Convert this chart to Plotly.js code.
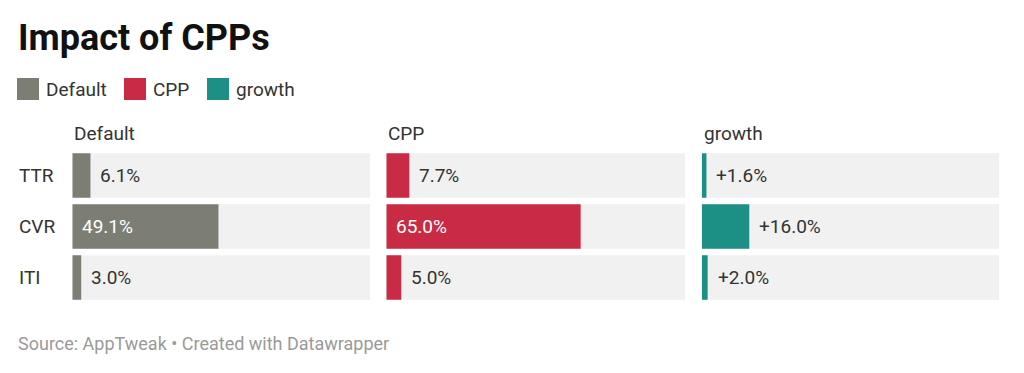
<!DOCTYPE html>
<html><head><meta charset="utf-8">
<script src="https://cdn.plot.ly/plotly-3.0.1.min.js"></script>
<style>html,body{margin:0;padding:0;background:#fff}#chart{width:1024px;height:373px}</style>
</head><body><div id="chart"></div>
<script>
const metrics = ['TTR', 'CVR', 'ITI'];
const seriesNames = ['Default', 'CPP', 'growth'];
const defaultValues = [6.1, 49.1, 3.0];
const cppValues = [7.7, 65.0, 5.0];
const growthValues = [1.6, 16.0, 2.0];
const seriesPrefix = ['', '', '+'];
const seriesColors = ['#7c7e74', '#c92b45', '#1d9086'];
const scaleMax = 100;
const chartTitle = 'Impact of CPPs';
const sourceText = 'Source: AppTweak \u2022 Created with Datawrapper';

const W = 1024, H = 373, MT = 150, MB = 70;
const PH = H - MT - MB;
function py(p) { return (H - MB - p) / PH; }
const domains = [[72.3 / W, 370 / W], [386.3 / W, 685.3 / W], [701.7 / W, 999.3 / W]];
const series = [defaultValues, cppValues, growthValues];
const FONT = 'Roboto, "Open Sans", sans-serif';
const BARW = 0.873;

const traces = [], annotations = [], shapes = [];
const layout = {
  width: W, height: H,
  margin: {l: 0, r: 0, t: MT, b: MB, pad: 0},
  paper_bgcolor: '#ffffff', plot_bgcolor: 'rgba(0,0,0,0)',
  barmode: 'overlay', showlegend: false,
  font: {family: FONT, size: 19, color: '#333333'},
  hovermode: false
};

series.forEach((vals, i) => {
  const sfx = i === 0 ? '' : String(i + 1);
  const xa = 'x' + sfx, ya = 'y' + sfx;
  layout['xaxis' + sfx] = {domain: domains[i], range: [0, scaleMax], visible: false, fixedrange: true, anchor: ya};
  layout['yaxis' + sfx] = {domain: [0, 1], type: 'category', categoryarray: metrics, categoryorder: 'array',
    range: [metrics.length - 0.5, -0.5], visible: false, fixedrange: true, anchor: xa};
  traces.push({type: 'bar', orientation: 'h', y: metrics, x: metrics.map(() => scaleMax),
    xaxis: xa, yaxis: ya, width: BARW, marker: {color: '#f1f1f1', line: {width: 0}}, hoverinfo: 'skip'});
  traces.push({type: 'bar', orientation: 'h', y: metrics, x: vals, name: seriesNames[i],
    xaxis: xa, yaxis: ya, width: BARW, marker: {color: seriesColors[i], line: {width: 0}}});
  vals.forEach((v, j) => {
    const inside = v > 20;
    annotations.push({xref: xa, yref: ya, x: inside ? 0 : v, y: metrics[j], xanchor: 'left', yanchor: 'middle',
      xshift: 8, showarrow: false, text: seriesPrefix[i] + v.toFixed(1) + '%',
      font: {family: FONT, size: 19, color: inside ? '#ffffff' : '#333333'}});
  });
  annotations.push({xref: 'paper', yref: 'paper', x: domains[i][0], y: py(133), xanchor: 'left', yanchor: 'middle',
    showarrow: false, text: seriesNames[i], font: {family: FONT, size: 19, color: '#333333'}});
});

metrics.forEach(m => {
  annotations.push({xref: 'paper', yref: 'y', x: 17 / W, y: m, xanchor: 'left', yanchor: 'middle',
    showarrow: false, text: m, font: {family: FONT, size: 19, color: '#333333'}});
});

// legend
const legendSquares = [17, 124, 207];
seriesNames.forEach((n, i) => {
  const x0 = legendSquares[i];
  shapes.push({type: 'rect', xref: 'paper', yref: 'paper', x0: x0 / W, x1: (x0 + 22) / W, y0: py(100), y1: py(78),
    fillcolor: seriesColors[i], line: {width: 0}});
  annotations.push({xref: 'paper', yref: 'paper', x: (x0 + 27) / W, y: py(89), xanchor: 'left', yanchor: 'middle',
    showarrow: false, text: n, font: {family: FONT, size: 19, color: '#333333'}});
});

annotations.push({xref: 'paper', yref: 'paper', x: 16 / W, y: py(38), xanchor: 'left', yanchor: 'middle',
  showarrow: false, text: '<b>' + chartTitle + '</b>', font: {family: FONT, size: 36, color: '#111111'}});
annotations.push({xref: 'paper', yref: 'paper', x: 16 / W, y: py(343), xanchor: 'left', yanchor: 'middle',
  showarrow: false, text: sourceText, font: {family: FONT, size: 18, color: '#9a9a9a'}});

layout.annotations = annotations;
layout.shapes = shapes;
Plotly.newPlot('chart', traces, layout, {displayModeBar: false, staticPlot: true});
</script></body></html>
